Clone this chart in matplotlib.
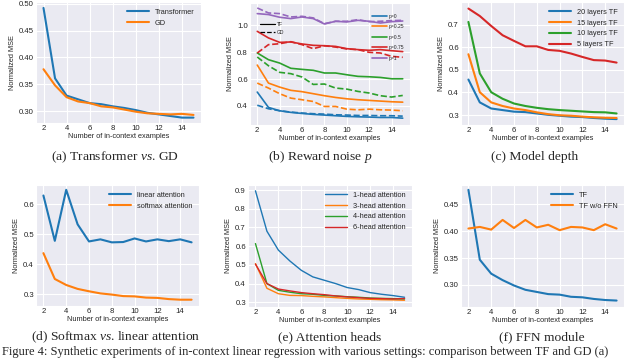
import numpy as np
import matplotlib
matplotlib.use("Agg")
import matplotlib.pyplot as plt
import seaborn as sns
from matplotlib.lines import Line2D

sns.set_style("darkgrid")
plt.rcParams['font.family'] = ['Liberation Sans', 'DejaVu Sans']
plt.rcParams['mathtext.fontset'] = 'custom'
plt.rcParams['mathtext.rm'] = 'Liberation Serif'
plt.rcParams['mathtext.it'] = 'Liberation Serif:italic'

n_examples = np.arange(2, 16)

# (a) Transformer vs GD
tf_a = [0.492, 0.361, 0.329, 0.322, 0.315, 0.313, 0.309, 0.306, 0.302, 0.297, 0.294, 0.291, 0.288, 0.288]
gd_a = [0.378, 0.348, 0.326, 0.318, 0.315, 0.309, 0.307, 0.303, 0.299, 0.296, 0.295, 0.294, 0.295, 0.293]

# (b) reward noise p, TF solid / GD dashed
noise_labels = ['p=0', 'p=0.25', 'p=0.5', 'p=0.75', 'p=1']
tf_b = [
    [0.503, 0.389, 0.364, 0.352, 0.344, 0.337, 0.332, 0.327, 0.322, 0.319, 0.317, 0.314, 0.314, 0.309],
    [0.704, 0.570, 0.540, 0.516, 0.506, 0.491, 0.476, 0.463, 0.453, 0.446, 0.441, 0.436, 0.431, 0.428],
    [0.794, 0.744, 0.719, 0.680, 0.672, 0.665, 0.645, 0.645, 0.632, 0.620, 0.617, 0.612, 0.602, 0.602],
    [0.955, 0.906, 0.873, 0.876, 0.861, 0.851, 0.848, 0.843, 0.826, 0.819, 0.814, 0.819, 0.811, 0.804],
    [1.087, 1.080, 1.060, 1.050, 1.062, 1.050, 1.010, 1.030, 1.025, 1.037, 1.030, 1.017, 1.027, 1.032],
]
gd_b = [
    [0.405, 0.379, 0.364, 0.354, 0.347, 0.342, 0.339, 0.334, 0.332, 0.329, 0.329, 0.327, 0.327, 0.324],
    [0.570, 0.533, 0.491, 0.458, 0.446, 0.433, 0.396, 0.396, 0.376, 0.371, 0.376, 0.371, 0.369, 0.364],
    [0.764, 0.699, 0.650, 0.640, 0.615, 0.560, 0.563, 0.533, 0.525, 0.508, 0.496, 0.476, 0.466, 0.478],
    [0.794, 0.856, 0.863, 0.878, 0.856, 0.826, 0.848, 0.838, 0.824, 0.819, 0.799, 0.794, 0.769, 0.762],
    [1.129, 1.092, 1.087, 1.062, 1.067, 1.055, 1.012, 1.030, 1.030, 1.042, 1.027, 1.030, 1.035, 1.037],
]

# (c) model depth
depth_labels = ['20 layers TF', '15 layers TF', '10 layers TF', '5 layers TF']
depth_c = [
    [0.457, 0.356, 0.329, 0.322, 0.315, 0.313, 0.307, 0.301, 0.297, 0.293, 0.291, 0.287, 0.284, 0.282],
    [0.569, 0.401, 0.356, 0.340, 0.329, 0.322, 0.312, 0.304, 0.299, 0.297, 0.293, 0.290, 0.288, 0.287],
    [0.712, 0.484, 0.401, 0.372, 0.351, 0.340, 0.332, 0.326, 0.322, 0.319, 0.316, 0.313, 0.312, 0.307],
    [0.771, 0.738, 0.694, 0.653, 0.628, 0.604, 0.604, 0.588, 0.584, 0.572, 0.557, 0.543, 0.541, 0.532],
]

# (d) softmax vs linear attention
linear_d = [0.629, 0.478, 0.648, 0.533, 0.476, 0.483, 0.473, 0.474, 0.486, 0.476, 0.483, 0.477, 0.483, 0.473]
softmax_d = [0.437, 0.351, 0.331, 0.318, 0.310, 0.303, 0.299, 0.294, 0.293, 0.289, 0.288, 0.284, 0.282, 0.282]

# (e) attention heads
head_labels = ['1-head attention', '3-head attention', '4-head attention', '6-head attention']
heads_e = [
    [0.896, 0.680, 0.579, 0.521, 0.471, 0.436, 0.418, 0.400, 0.379, 0.368, 0.352, 0.343, 0.336, 0.327],
    [0.507, 0.375, 0.346, 0.337, 0.336, 0.332, 0.329, 0.325, 0.321, 0.318, 0.316, 0.314, 0.313, 0.311],
    [0.614, 0.400, 0.364, 0.354, 0.346, 0.343, 0.337, 0.334, 0.330, 0.327, 0.323, 0.321, 0.320, 0.318],
    [0.504, 0.400, 0.371, 0.361, 0.352, 0.346, 0.341, 0.334, 0.329, 0.325, 0.321, 0.320, 0.318, 0.320],
]

# (f) FFN module
tf_f = [0.477, 0.347, 0.321, 0.309, 0.299, 0.291, 0.287, 0.283, 0.282, 0.278, 0.277, 0.274, 0.272, 0.271]
noffn_f = [0.405, 0.408, 0.403, 0.421, 0.406, 0.421, 0.407, 0.412, 0.402, 0.408, 0.407, 0.402, 0.413, 0.405]

colors = ['#1f77b4', '#ff7f0e', '#2ca02c', '#d62728', '#9467bd']

W, H = 640, 359
fig = plt.figure(figsize=(W / 100, H / 100), dpi=100)


def make_ax(l, t, r, b):
    ax = fig.add_axes([l / W, 1 - b / H, (r - l) / W, (b - t) / H])
    ax.tick_params(labelsize=5.6, pad=1.5, length=0)
    ax.set_xticks([2, 4, 6, 8, 10, 12, 14])
    ax.set_xlabel('Number of in-context examples', fontsize=5.3, labelpad=1)
    ax.set_ylabel('Normalized MSE', fontsize=5.3, labelpad=2)
    for g in ax.get_xgridlines() + ax.get_ygridlines():
        g.set_linewidth(0.8)
    return ax


def caption(x, y, s):
    fig.text(x / W, 1 - y / H, s, ha='center', va='center', fontsize=9.7,
             family='Liberation Serif')


# (a)
ax = make_ax(36, 2, 201, 123)
ax.plot(n_examples, tf_a, color=colors[0], lw=1.5, label='Transformer')
ax.plot(n_examples, gd_a, color=colors[1], lw=1.5, label='GD')
ax.set_ylim(0.278, 0.503)
ax.set_yticks([0.30, 0.35, 0.40, 0.45, 0.50])
ax.set_yticklabels(['0.30', '0.35', '0.40', '0.45', '0.50'])
ax.legend(loc='upper right', fontsize=5.3, frameon=False, handlelength=3)
caption(115, 157, r'(a) Transformer $\mathit{vs}$. GD')

# (b)
ax = make_ax(250, 3, 410, 125)
for i in range(5):
    ax.plot(n_examples, tf_b[i], color=colors[i], lw=1.2, label=noise_labels[i])
    ax.plot(n_examples, gd_b[i], color=colors[i], lw=1.2, ls='--')
ax.set_ylim(0.258, 1.166)
ax.set_yticks([0.4, 0.6, 0.8, 1.0])
leg1 = ax.legend(loc='upper right', bbox_to_anchor=(0.99, 0.95), fontsize=3.6,
                 frameon=False, handlelength=3, labelspacing=1.1, handletextpad=0.3)
ax.add_artist(leg1)
style_handles = [Line2D([], [], color='black', lw=0.9), Line2D([], [], color='black', lw=0.9, ls='--')]
ax.legend(style_handles, ['TF', 'GD'], loc='upper left', bbox_to_anchor=(0.035, 0.88), fontsize=3.6,
          frameon=False, handlelength=3, labelspacing=0.6, handletextpad=0.4)
caption(320, 157, r'(b) Reward noise $p$')

# (c)
ax = make_ax(461, 2, 624, 125)
for i in range(4):
    ax.plot(n_examples, depth_c[i], color=colors[i], lw=1.5, label=depth_labels[i])
ax.set_ylim(0.256, 0.80)
ax.set_yticks([0.3, 0.4, 0.5, 0.6, 0.7])
ax.legend(loc='upper right', fontsize=5.3, frameon=False, handlelength=3)
caption(535, 157, '(c) Model depth')

# (d)
ax = make_ax(36, 185, 199, 306)
ax.plot(n_examples, linear_d, color=colors[0], lw=1.5, label='linear attention')
ax.plot(n_examples, softmax_d, color=colors[1], lw=1.5, label='softmax attention')
ax.set_ylim(0.261, 0.664)
ax.set_yticks([0.3, 0.4, 0.5, 0.6])
ax.legend(loc='upper right', fontsize=5.3, frameon=False, handlelength=3)
caption(116, 337, r'(d) Softmax $\mathit{vs}$. linear attention')

# (e)
ax = make_ax(248, 185, 412, 307)
for i in range(4):
    ax.plot(n_examples, heads_e[i], color=colors[i], lw=1.0, label=head_labels[i])
ax.set_ylim(0.275, 0.927)
ax.set_yticks([0.3, 0.4, 0.5, 0.6, 0.7, 0.8, 0.9])
ax.legend(loc='upper right', fontsize=5.3, frameon=False, handlelength=3)
caption(330, 337, '(e) Attention heads')

# (f)
ax = make_ax(461, 185, 624, 307)
ax.plot(n_examples, tf_f, color=colors[0], lw=1.5, label='TF')
ax.plot(n_examples, noffn_f, color=colors[1], lw=1.5, label='TF w/o FFN')
ax.set_ylim(0.259, 0.486)
ax.set_yticks([0.30, 0.35, 0.40, 0.45])
ax.set_yticklabels(['0.30', '0.35', '0.40', '0.45'])
ax.legend(loc='upper right', fontsize=5.3, frameon=False, handlelength=3)
caption(542, 337, '(f) FFN module')

# figure caption along the bottom edge
fig.text(2 / W, 0.5 / H,
         'Figure 4: Synthetic experiments of in-context linear regression with various settings: comparison between TF and GD (a)',
         ha='left', va='bottom', fontsize=9.0, family='Liberation Serif')

fig.savefig('out.png', dpi=100)
